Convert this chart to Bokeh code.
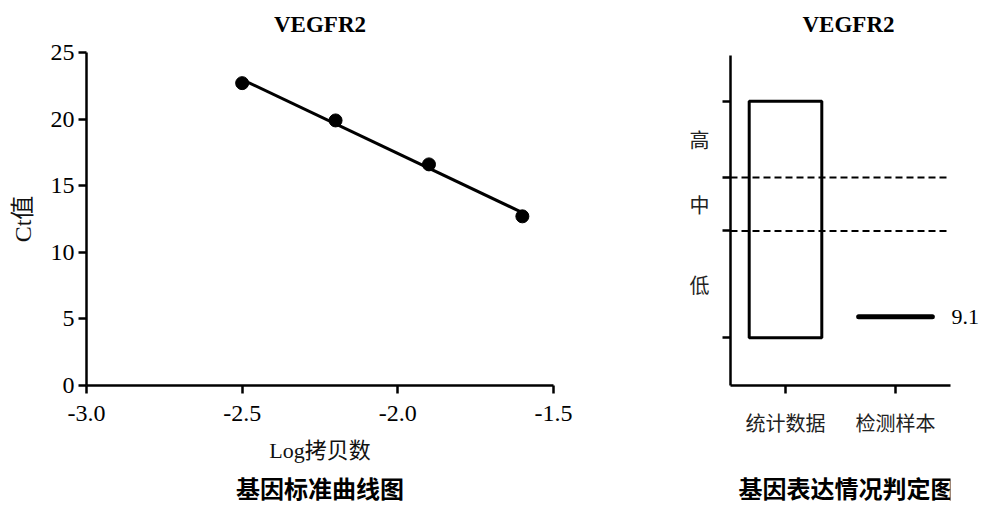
from bokeh.plotting import figure
from bokeh.layouts import row, column
from bokeh.models import (FixedTicker, LinearAxis, Span, Range1d, FactorRange,
                          ColumnDataSource, CustomJSTickFormatter, PrintfTickFormatter)
from bokeh.core.properties import value
from bokeh.transform import dodge
from bokeh.embed import file_html
from bokeh.resources import INLINE
import numpy as np

# ---- data: standard curve ----
log_copies = [-2.5, -2.2, -1.9, -1.6]
ct_values = [22.7, 19.9, 16.6, 12.7]
x_ticks = [-3.0, -2.5, -2.0, -1.5]
y_ticks = [0, 5, 10, 15, 20, 25]

# ---- data: expression judgement ----
groups = ["统计数据", "检测样本"]
stat_range = [8.0, 20.4]       # low / high of statistic box
thresholds = [13.6, 16.4]      # low|mid and mid|high cut-offs
levels = ["低", "中", "高"]
sample_value = 9.1

gene = "VEGFR2"
caption_left = "基因标准曲线图"
caption_right = "基因表达情况判定图"

SERIF = "'Liberation Serif', 'Noto Sans CJK SC'"
CJK = "'Noto Sans CJK SC'"
TH = 38                # title strip height
CH = 40                # caption strip height
H = 505 - TH - CH      # chart height
AXIS_Y = 385           # frame bottom (page pixels)
BOTTOM = (505 - CH) - AXIS_Y


def text_strip(width, left, right, height, text, font, size, dx, dy):
    t = figure(width=width, height=height, output_backend="svg", toolbar_location=None,
               x_range=Range1d(0, 1), y_range=Range1d(0, 1),
               x_axis_type=None, y_axis_type=None,
               min_border_left=left, min_border_right=right, min_border_top=0, min_border_bottom=0)
    t.outline_line_color = None
    t.grid.grid_line_color = None
    t.text(x=[0.5], y=[0.5], text=[text], text_align="center", text_baseline="middle",
           x_offset=dx, y_offset=dy,
           text_font=value(font), text_font_size=size,
           text_font_style="bold", text_color="black")
    return t


# ================= left figure =================
p1 = figure(width=640, height=H, output_backend="svg", toolbar_location=None,
            x_range=Range1d(x_ticks[0], x_ticks[-1]), y_range=Range1d(y_ticks[0], y_ticks[-1]),
            min_border_left=86, min_border_right=87, min_border_top=52 - TH,
            min_border_bottom=BOTTOM)
p1.outline_line_color = None
p1.grid.grid_line_color = None

slope, icpt = np.polyfit(log_copies, ct_values, 1)
fit_x = [log_copies[0], log_copies[-1]]
fit_y = [slope * v + icpt for v in fit_x]
p1.line(fit_x, fit_y, line_color="black", line_width=3)
p1.scatter(log_copies, ct_values, size=13, fill_color="black", line_color="black")

for ax in (p1.xaxis[0], p1.yaxis[0]):
    ax.axis_line_width = 2.5
    ax.major_tick_line_width = 2.5
    ax.major_tick_out = 8
    ax.major_tick_in = 0
    ax.minor_tick_line_color = None
    ax.major_label_text_font = "Liberation Serif"
    ax.major_label_text_font_size = "24px"
    ax.major_label_text_color = "black"
    ax.axis_label_text_font = SERIF
    ax.axis_label_text_font_style = "normal"
    ax.axis_label_text_color = "#111111"
p1.xaxis[0].ticker = FixedTicker(ticks=x_ticks)
p1.yaxis[0].ticker = FixedTicker(ticks=y_ticks)
p1.xaxis[0].formatter = PrintfTickFormatter(format="%.1f")
p1.yaxis[0].formatter = PrintfTickFormatter(format="%d")
p1.xaxis[0].major_label_standoff = 12
p1.yaxis[0].major_label_standoff = 4
p1.xaxis[0].axis_label = "Log拷贝数"
p1.yaxis[0].axis_label = "Ct值"
p1.xaxis[0].axis_label_text_font_size = "22px"
p1.yaxis[0].axis_label_text_font_size = "24px"
p1.xaxis[0].axis_label_standoff = 14
p1.yaxis[0].axis_label_standoff = 12

# ================= right figure =================
p2 = figure(width=342, height=H, output_backend="svg", toolbar_location=None,
            x_range=FactorRange(*groups), y_range=Range1d(5.5, 22.8),
            min_border_left=90, min_border_right=32, min_border_top=55 - TH,
            min_border_bottom=BOTTOM)
p2.outline_line_color = None
p2.grid.grid_line_color = None

for t in thresholds:
    p2.add_layout(Span(location=t, dimension="width", line_color="black",
                       line_width=2, line_dash="7 4"))

p2.vbar(x=[groups[0]], bottom=[stat_range[0]], top=[stat_range[1]], width=0.66,
        fill_color=None, line_color="black", line_width=3)

src = ColumnDataSource(dict(g=[groups[1]], y=[sample_value]))
p2.segment(x0=dodge("g", -0.335, range=p2.x_range), x1=dodge("g", 0.335, range=p2.x_range),
           y0="y", y1="y", source=src, line_color="black", line_width=5, line_cap="round")

ya = p2.yaxis[0]
ya.ticker = FixedTicker(ticks=stat_range + thresholds)
ya.formatter = CustomJSTickFormatter(code="return ''")
ya.axis_line_width = 2.5
ya.major_tick_line_width = 2.5
ya.major_tick_out = 8
ya.major_tick_in = 0
ya.minor_tick_line_color = None
ya.major_label_standoff = 0

bounds = [stat_range[0]] + thresholds + [stat_range[1]]
mids = [(bounds[i] + bounds[i + 1]) / 2 for i in range(len(levels))]
la = LinearAxis(ticker=FixedTicker(ticks=mids),
                major_label_overrides={m: s for m, s in zip(mids, levels)},
                axis_line_color=None, major_tick_line_color=None, minor_tick_line_color=None,
                major_tick_out=0, major_label_standoff=13,
                major_label_text_font=CJK, major_label_text_font_size="20px",
                major_label_text_color="#222222")
p2.add_layout(la, "left")

ra = LinearAxis(ticker=FixedTicker(ticks=[sample_value]),
                major_label_overrides={sample_value: str(sample_value)},
                axis_line_color=None, major_tick_line_color=None, minor_tick_line_color=None,
                major_tick_out=0, major_label_standoff=1,
                major_label_text_font="Liberation Serif", major_label_text_font_size="22px",
                major_label_text_color="black")
p2.add_layout(ra, "right")

xa = p2.xaxis[0]
xa.axis_line_width = 2.5
xa.major_tick_line_width = 2.5
xa.major_tick_out = 8
xa.major_tick_in = 0
xa.major_label_text_font = CJK
xa.major_label_text_font_size = "20px"
xa.major_label_text_color = "#222222"
xa.major_label_standoff = 14

# ================= title / caption strips =================
t1 = text_strip(640, 86, 87, TH, gene, "Liberation Serif", "23px", 0, 5)
t2 = text_strip(342, 90, 32, TH, gene, "Liberation Serif", "23px", 8, 5)
c1 = text_strip(640, 86, 87, CH, caption_left, "Noto Sans CJK SC", "24px", 0, 2)
c2 = text_strip(342, 90, 32, CH, caption_right, "Noto Sans CJK SC", "24px", 6, 2)

layout = row(column(t1, p1, c1), column(t2, p2, c2))
open("out.html", "w").write(file_html(layout, INLINE))
